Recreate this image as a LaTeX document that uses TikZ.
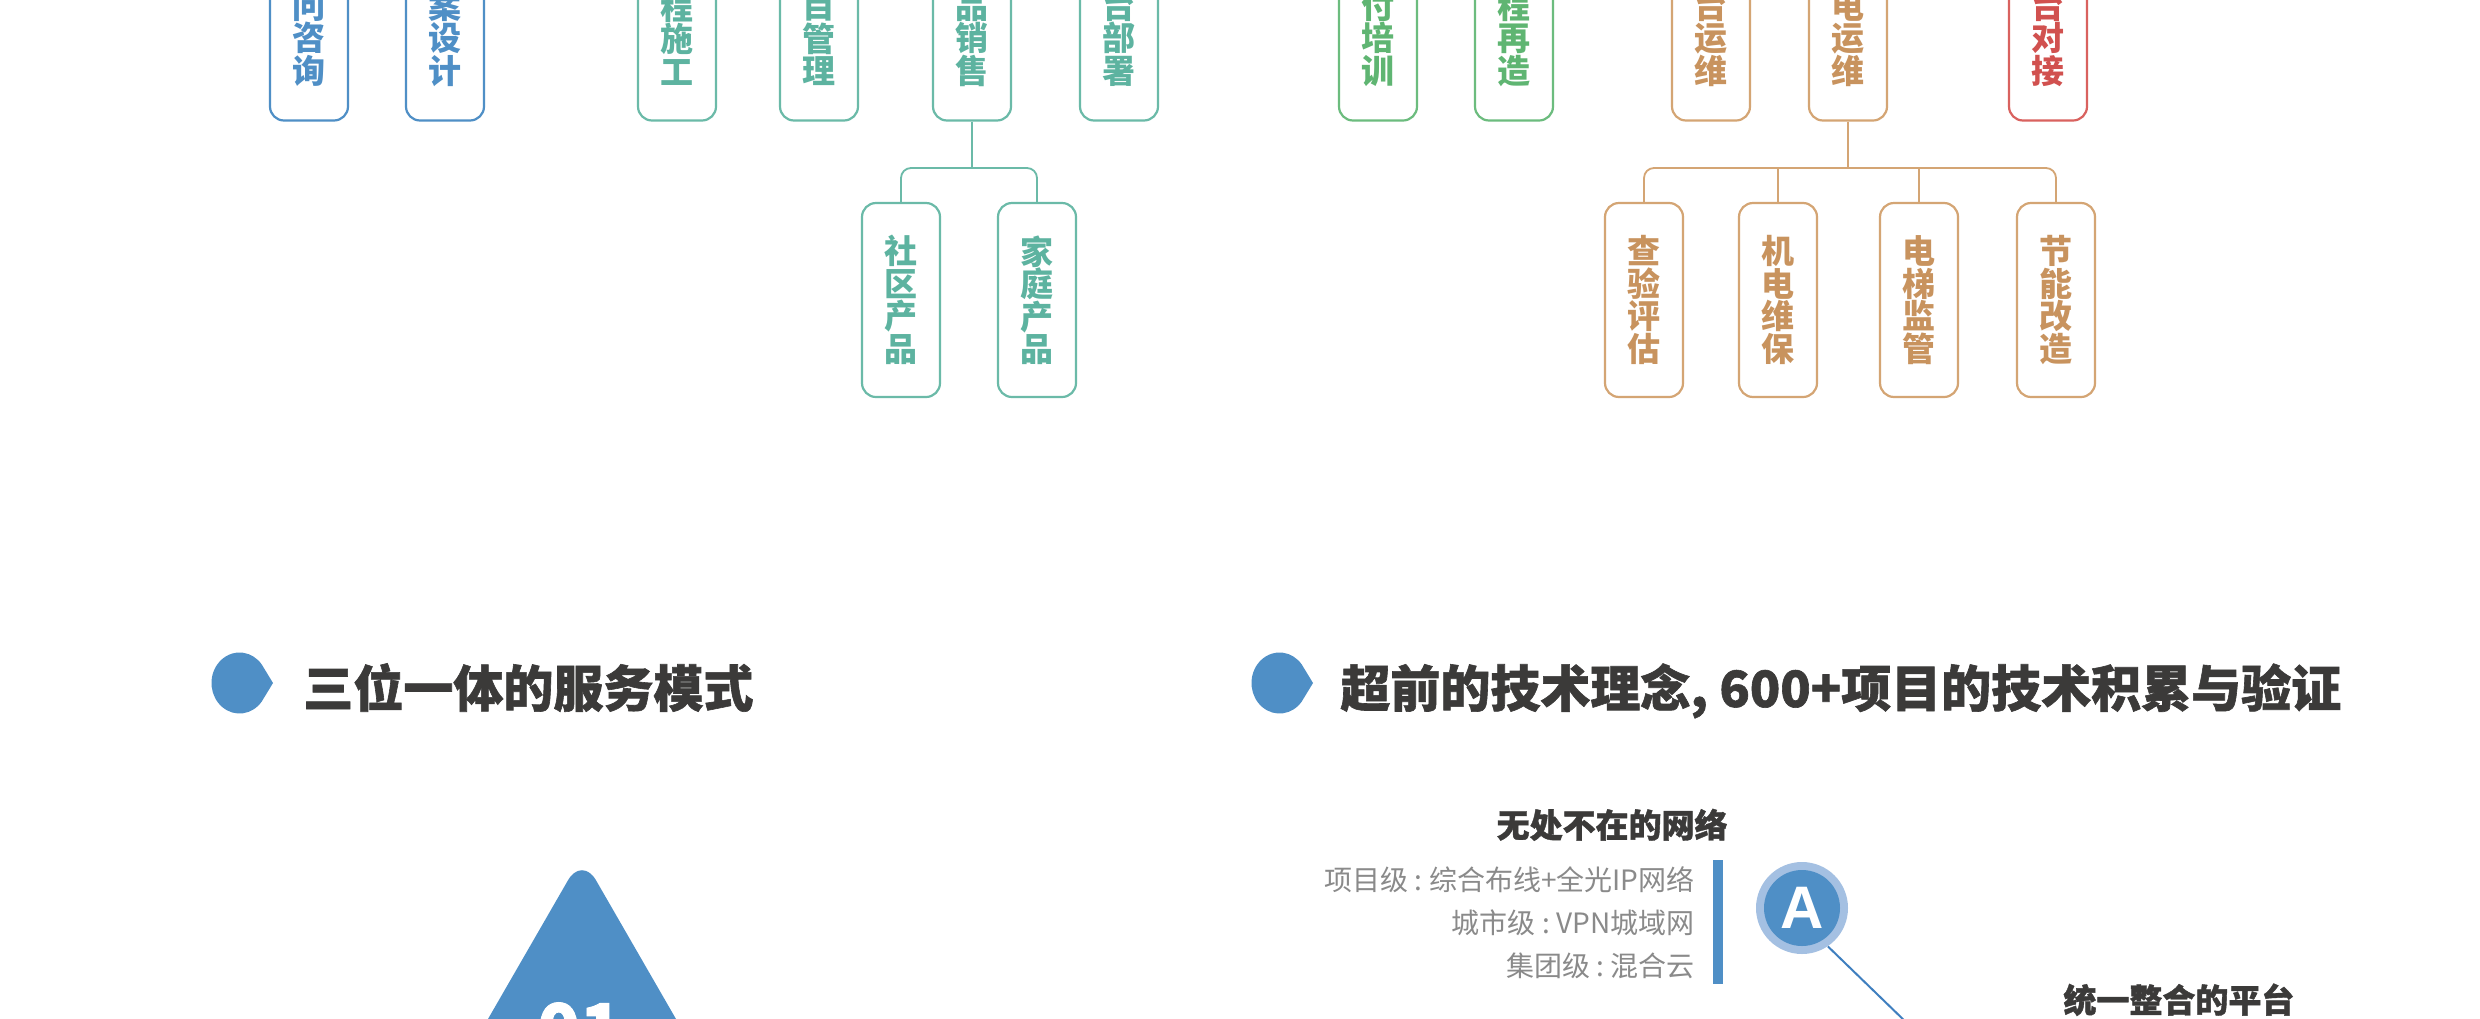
\documentclass[tikz,border=0pt]{standalone}
\usepackage{fontspec}
\newfontfamily\cjk{Noto Sans CJK SC}
\newfontfamily\cjkheavy[BoldFeatures={FakeBold=1.2}]{Noto Sans CJK SC}
\newfontfamily\latb{Liberation Sans}
\definecolor{cBlue}{HTML}{4F8FC6}
\definecolor{cBlueLight}{HTML}{A4C0E2}
\definecolor{cLine}{HTML}{3F7FBF}
\definecolor{cTeal}{HTML}{6BBAA8}
\definecolor{cTealT}{HTML}{5DB3A0}
\definecolor{cGreen}{HTML}{6CBC7E}
\definecolor{cGreenT}{HTML}{5FB572}
\definecolor{cTan}{HTML}{D4A574}
\definecolor{cTanT}{HTML}{C8935E}
\definecolor{cRed}{HTML}{D9625F}
\definecolor{cRedT}{HTML}{D1514F}
\definecolor{cHead}{HTML}{3B3A39}
\definecolor{cGray}{HTML}{8A8A8A}
\newcommand{\gcolon}{\hspace{3.2pt}:\hspace{3.2pt}}
\tikzset{
  vbox/.style={draw, line width=1.1pt, rounded corners=7pt, minimum width=39pt,
    minimum height=97pt, inner sep=0pt, align=center, fill=white,
    font=\cjk\bfseries\fontsize{16.5}{16.25}\selectfont},
  bluebox/.style={vbox, draw=cBlue, text=cBlue},
  tealbox/.style={vbox, draw=cTeal, text=cTealT},
  greenbox/.style={vbox, draw=cGreen, text=cGreenT},
  tanbox/.style={vbox, draw=cTan, text=cTanT},
  redbox/.style={vbox, draw=cRed, text=cRedT},
  conn/.style={line width=0.9pt, rounded corners=5pt},
  head/.style={inner sep=0pt, text=cHead, font=\cjkheavy\bfseries\fontsize{25}{25}\selectfont},
  subhead/.style={inner sep=0pt, text=cHead, font=\cjkheavy\bfseries\fontsize{16.5}{16.5}\selectfont},
  grayline/.style={inner sep=0pt, text=cGray, font=\cjk\fontsize{14}{14}\selectfont},
}
\begin{document}
\begin{tikzpicture}[x=0.5pt,y=-0.5pt]
\useasboundingbox (0,0) rectangle (2480,1018);
\clip (0,0) rectangle (2480,1018);
\fill[white] (0,0) rectangle (2480,1018);

% ---- top row (cut off at the top edge)
\node[bluebox]  (t1)  at (309,23.5)  {\phantom{口}\\问\\咨\\询};
\node[bluebox]  (t2)  at (445,23.5)  {\phantom{口}\\案\\设\\计};
\node[tealbox]  (t3)  at (677,23.5)  {\phantom{口}\\程\\施\\工};
\node[tealbox]  (t4)  at (819,23.5)  {\phantom{口}\\目\\管\\理};
\node[tealbox]  (t5)  at (972,23.5)  {\phantom{口}\\品\\销\\售};
\node[tealbox]  (t6)  at (1119,23.5) {\phantom{口}\\台\\部\\署};
\node[greenbox] (t7)  at (1378,23.5) {\phantom{口}\\付\\培\\训};
\node[greenbox] (t8)  at (1514,23.5) {\phantom{口}\\程\\再\\造};
\node[tanbox]   (t9)  at (1711,23.5) {\phantom{口}\\台\\运\\维};
\node[tanbox]   (t10) at (1848,23.5) {\phantom{口}\\电\\运\\维};
\node[redbox]   (t11) at (2048,23.5) {\phantom{口}\\台\\对\\接};

% ---- sub boxes
\node[tealbox] (c1) at (901,300)  {社\\区\\产\\品};
\node[tealbox] (c2) at (1037,300) {家\\庭\\产\\品};
\node[tanbox] (d1) at (1644,300) {查\\验\\评\\估};
\node[tanbox] (d2) at (1778,300) {机\\电\\维\\保};
\node[tanbox] (d3) at (1919,300) {电\\梯\\监\\管};
\node[tanbox] (d4) at (2056,300) {节\\能\\改\\造};

% ---- tree connectors
\coordinate (j1) at (972,168);
\coordinate (j2) at (1848,168);
\draw[conn, draw=cTeal] (t5.south) -- (j1);
\draw[conn, draw=cTeal] (c1.north) |- (j1) -| (c2.north);
\draw[conn, draw=cTan] (t10.south) -- (j2);
\draw[conn, draw=cTan] (d1.north) |- (j2) -| (d4.north);
\draw[conn, draw=cTan] (d2.north) -- (d2.north |- j2);
\draw[conn, draw=cTan] (d3.north) -- (d3.north |- j2);

% ---- headings
\fill[cBlue] (239.5,683) ++(37.6:28 and 30.5) arc (37.6:322.4:28 and 30.5) -- (273,683) -- cycle;
\node[head, anchor=base west] (h1) at (303,707) {三位一体的服务模式};
\fill[cBlue] (1279.5,683) ++(37.6:28 and 30.5) arc (37.6:322.4:28 and 30.5) -- (1313,683) -- cycle;
\node[head, anchor=base west] (h2) at (1340,707) {超前的技术理念, 600+项目的技术积累与验证};

% ---- triangle 01
\fill[cBlue, rounded corners=14pt] (582,856) -- (409,1156) -- (755,1156) -- cycle;
\node[anchor=north, inner sep=0pt, text=white, font=\cjkheavy\bfseries\fontsize{35}{35}\selectfont] (n01) at (580,1002) {01};

% ---- network block
\node[subhead, anchor=base east] (net) at (1728,837.5) {无处不在的网络};
\node[grayline, anchor=base east] (g1) at (1695,890.5) {项目级\gcolon 综合布线+全光IP网络};
\node[grayline, anchor=base east] (g2) at (1695,933.5) {城市级\gcolon VPN城域网};
\node[grayline, anchor=base east] (g3) at (1695,976.5) {集团级\gcolon 混合云};
\fill[cBlue] (1713,860) rectangle (1723,984);

\node[circle, fill=cBlueLight, minimum size=46pt, inner sep=0pt] (A) at (1802,908) {};
\node[circle, fill=cBlue, minimum size=38pt, inner sep=0pt, text=white,
      font=\latb\bfseries\fontsize{30}{30}\selectfont] (Ain) at (1802,908) {A};
\coordinate (aend) at (1909,1025);
\draw[cLine, line width=1pt] (A.-56) -- (aend);

\node[subhead, anchor=base west] (plat) at (2063,1012.5) {统一整合的平台};
\end{tikzpicture}
\end{document}
